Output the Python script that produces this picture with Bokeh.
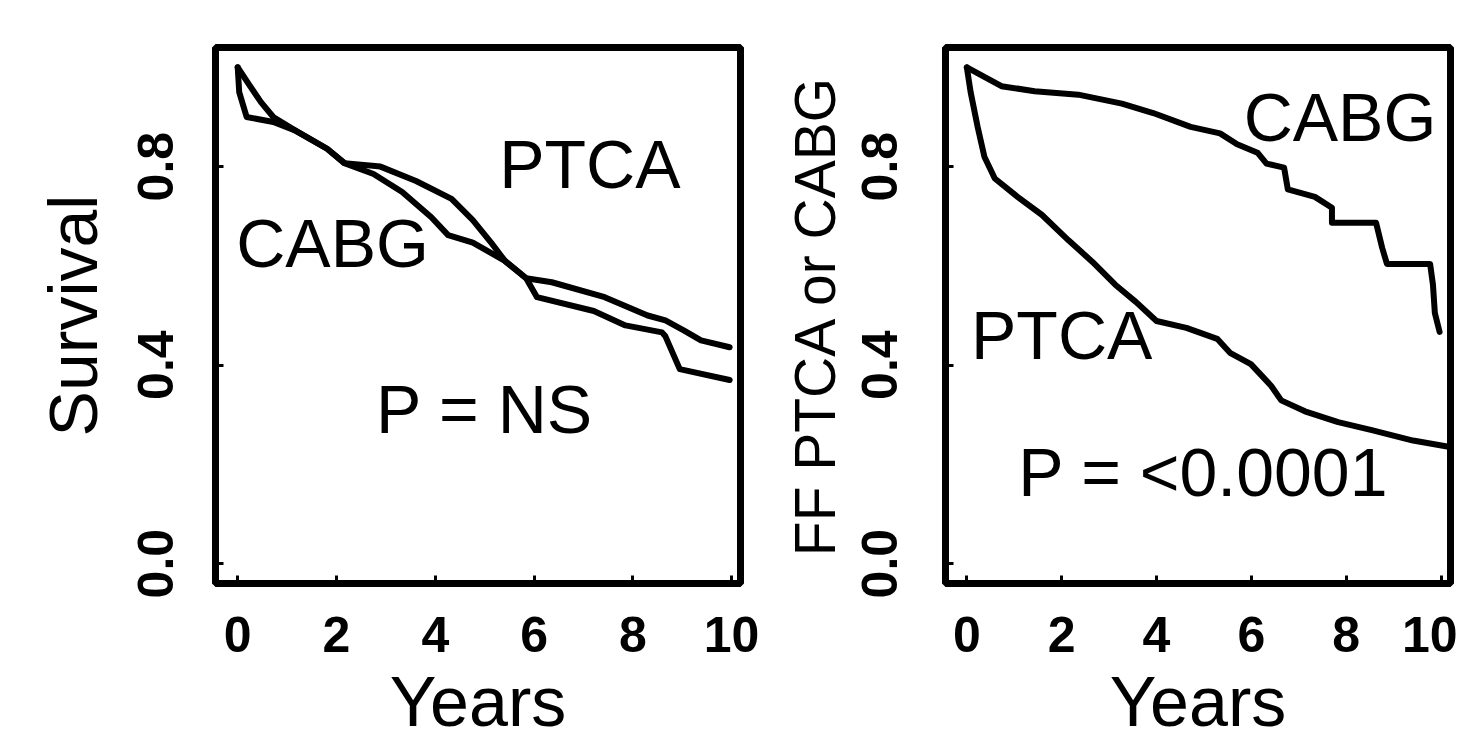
from bokeh.plotting import figure
from bokeh.layouts import row
from bokeh.models import Label, Range1d, FixedTicker, PrintfTickFormatter
from bokeh.embed import file_html
from bokeh.resources import INLINE

# ---------------- data ----------------
x_ticks = [0, 2, 4, 6, 8, 10]
y_ticks = [0.0, 0.4, 0.8]

# Left panel: survival
l_ptca_x = [0, 0.23, 0.47, 0.72, 1.16, 1.81, 2.16, 2.89, 3.61, 4.33, 4.76, 5.13, 5.41, 5.84, 6.36, 7.43, 8.30, 8.66, 9.03, 9.38, 9.96]
l_ptca_y = [1.0, 0.965, 0.93, 0.90, 0.873, 0.836, 0.807, 0.80, 0.771, 0.735, 0.692, 0.647, 0.61, 0.575, 0.567, 0.537, 0.50, 0.49, 0.47, 0.45, 0.436]
l_cabg_x = [0, 0.03, 0.18, 0.72, 1.16, 1.81, 2.16, 2.75, 3.33, 3.92, 4.26, 4.76, 5.41, 5.84, 6.06, 7.21, 7.85, 8.59, 8.66, 8.95, 9.96]
l_cabg_y = [1.0, 0.95, 0.90, 0.89, 0.873, 0.836, 0.807, 0.785, 0.749, 0.698, 0.662, 0.647, 0.61, 0.575, 0.537, 0.509, 0.48, 0.466, 0.458, 0.392, 0.37]

# Right panel: freedom from PTCA or CABG
r_cabg_x = [0, 0.73, 1.43, 2.35, 3.27, 3.93, 4.72, 5.34, 5.70, 6.13, 6.32, 6.69, 6.77, 7.34, 7.70, 7.70, 8.63, 8.76, 8.86, 9.77, 9.83, 9.87, 9.97]
r_cabg_y = [1.0, 0.962, 0.952, 0.945, 0.927, 0.908, 0.88, 0.867, 0.845, 0.828, 0.806, 0.798, 0.754, 0.739, 0.717, 0.687, 0.687, 0.636, 0.604, 0.604, 0.562, 0.505, 0.467]
r_ptca_x = [0, 0.08, 0.23, 0.37, 0.59, 1.07, 1.58, 2.15, 2.65, 3.13, 3.57, 4.0, 4.63, 5.28, 5.56, 5.99, 6.42, 6.63, 7.13, 7.83, 8.54, 9.41, 10.13]
r_ptca_y = [1.0, 0.95, 0.879, 0.82, 0.776, 0.739, 0.703, 0.651, 0.608, 0.562, 0.527, 0.489, 0.475, 0.453, 0.424, 0.402, 0.358, 0.329, 0.307, 0.285, 0.269, 0.248, 0.236]

left_texts = [("PTCA", 7.13, 0.805), ("CABG", 1.92, 0.646), ("P = NS", 5.0, 0.311)]
right_texts = [("CABG", 7.87, 0.90), ("PTCA", 2.0, 0.46), ("P = <0.0001", 4.99, 0.184)]

FONT = "Liberation Sans"
H = 743


def make_panel(width, left, right, top, xr, curves, texts,
               ylabel, ylabel_size, ytick_standoff, ylabel_standoff, xlabel_standoff):
    p = figure(width=width, height=H, output_backend="svg", toolbar_location=None,
               x_range=Range1d(*xr), y_range=Range1d(-0.04, 1.04),
               min_border_left=left, min_border_right=right,
               min_border_top=top, min_border_bottom=H - top - 545)
    p.xgrid.visible = False
    p.ygrid.visible = False
    p.background_fill_color = "white"
    p.border_fill_color = "white"
    p.outline_line_color = "black"
    p.outline_line_width = 7
    for ax in (p.xaxis[0], p.yaxis[0]):
        ax.axis_line_color = None
        ax.major_tick_in = 8
        ax.major_tick_out = 0
        ax.major_tick_line_width = 3
        ax.major_tick_line_color = "black"
        ax.minor_tick_line_color = None
        ax.major_label_text_font = FONT
        ax.major_label_text_font_style = "bold"
        ax.major_label_text_font_size = "50px"
        ax.major_label_text_color = "black"
        ax.axis_label_text_font = FONT
        ax.axis_label_text_font_style = "normal"
        ax.axis_label_text_color = "black"
    p.xaxis.ticker = FixedTicker(ticks=x_ticks)
    p.yaxis.ticker = FixedTicker(ticks=y_ticks)
    p.yaxis.formatter = PrintfTickFormatter(format="%.1f")
    p.yaxis.major_label_orientation = "vertical"
    p.xaxis.major_label_standoff = 33
    p.yaxis.major_label_standoff = ytick_standoff
    p.xaxis.axis_label = "Years"
    p.xaxis.axis_label_text_font_size = "70px"
    p.xaxis.axis_label_standoff = xlabel_standoff
    p.yaxis.axis_label = ylabel
    p.yaxis.axis_label_text_font_size = ylabel_size
    p.yaxis.axis_label_standoff = ylabel_standoff
    for xs, ys in curves:
        p.line(xs, ys, line_color="black", line_width=6, line_join="round", line_cap="round")
    for t, x, y in texts:
        p.add_layout(Label(x=x, y=y, text=t, text_font=FONT, text_font_size="68px",
                           text_align="center", text_baseline="middle", text_color="black"))
    return p


p1 = make_panel(760, 215, 20, 47, (-0.45, 10.18),
                [(l_ptca_x, l_ptca_y), (l_cabg_x, l_cabg_y)], left_texts,
                "Survival", "68px", 42, 25, 8)
p2 = make_panel(697, 185, 7, 40, (-0.45, 10.2),
                [(r_cabg_x, r_cabg_y), (r_ptca_x, r_ptca_y)], right_texts,
                "FF PTCA or CABG", "57px", 48, 13, 8)

layout = row(p1, p2)
open("out.html", "w").write(file_html(layout, INLINE))
